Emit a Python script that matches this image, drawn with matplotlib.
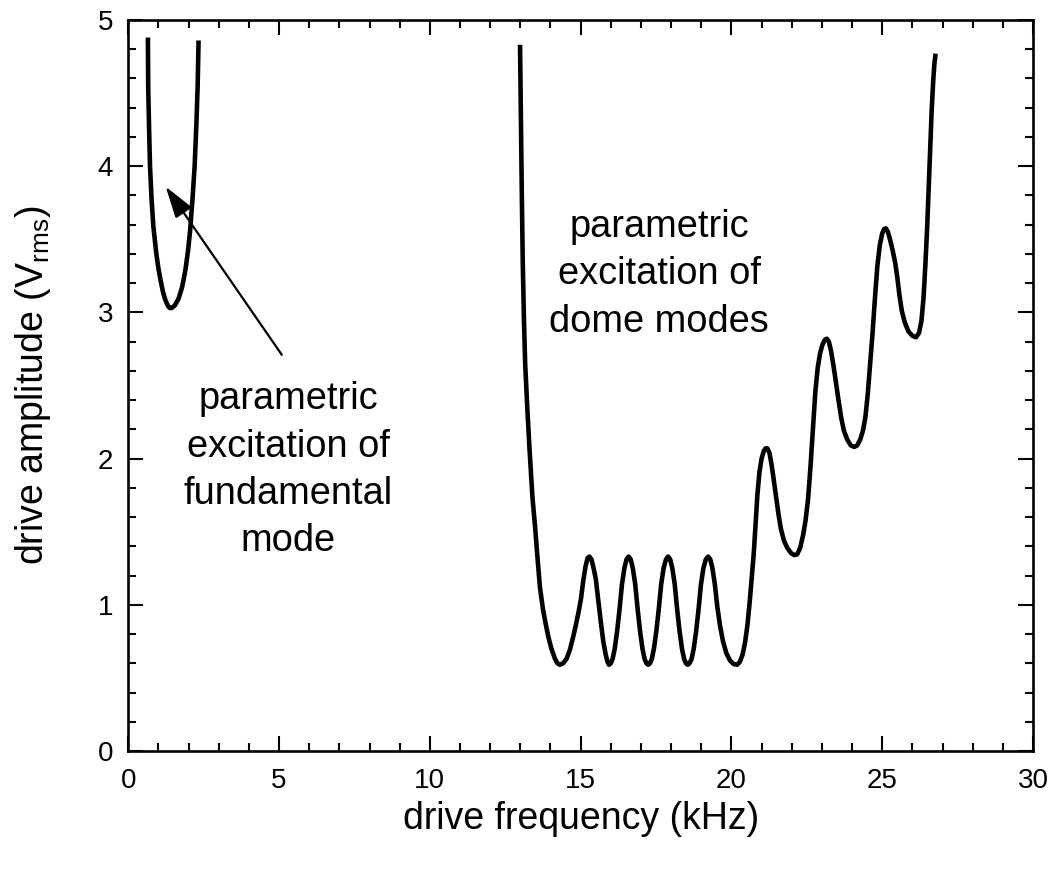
import matplotlib
matplotlib.use("Agg")
import matplotlib.pyplot as plt
from matplotlib.ticker import MultipleLocator

plt.rcParams['font.family'] = ['Liberation Sans', 'DejaVu Sans']
plt.rcParams['mathtext.fontset'] = 'custom'
plt.rcParams['mathtext.rm'] = 'Liberation Sans'

# fundamental mode threshold curve (kHz, V_rms)
fund_freq = [0.65, 0.66, 0.69, 0.72, 0.77, 0.83, 0.93, 1.00, 1.07, 1.15, 1.22, 1.28, 1.33,
             1.38, 1.44, 1.50, 1.55, 1.60, 1.66, 1.72, 1.78, 1.84, 1.90, 1.98, 2.05, 2.13,
             2.20, 2.26, 2.30, 2.33]
fund_amp = [4.88, 4.54, 4.25, 4.00, 3.78, 3.59, 3.40, 3.30, 3.22, 3.14, 3.09, 3.06, 3.04,
            3.03, 3.03, 3.04, 3.05, 3.07, 3.09, 3.13, 3.17, 3.23, 3.30, 3.42, 3.56, 3.78,
            4.00, 4.30, 4.55, 4.86]

# dome modes threshold curve (kHz, V_rms)
dome_freq = [12.99, 13.02, 13.05, 13.08, 13.12, 13.16, 13.23, 13.30, 13.40, 13.49, 13.57,
             13.65, 13.75, 13.84, 13.93, 14.03, 14.15, 14.23,
             14.31, 14.42, 14.53, 14.64, 14.74, 14.84, 14.93, 15.01, 15.09, 15.16, 15.23,
             15.29, 15.36, 15.43, 15.50, 15.59, 15.67, 15.75, 15.83, 15.89,
             15.94, 16.00, 16.06, 16.13, 16.21, 16.29, 16.37, 16.45, 16.52,
             16.59, 16.66, 16.73, 16.81, 16.89, 16.97, 17.05, 17.12, 17.18,
             17.24, 17.30, 17.36, 17.43, 17.51, 17.59, 17.67, 17.75, 17.83,
             17.90, 17.97, 18.04, 18.12, 18.20, 18.28, 18.36, 18.43, 18.49,
             18.55, 18.61, 18.68, 18.75, 18.83, 18.91, 18.99, 19.07, 19.15,
             19.23, 19.30, 19.37, 19.45, 19.53, 19.62, 19.72, 19.83, 19.95, 20.07,
             20.19, 20.28, 20.37, 20.45, 20.53, 20.61, 20.68, 20.74, 20.80, 20.86, 20.93,
             21.00, 21.07, 21.13, 21.19, 21.26, 21.33, 21.40, 21.48, 21.56, 21.64, 21.74,
             21.85, 21.97, 22.08, 22.18, 22.28, 22.38, 22.46, 22.54, 22.62, 22.70, 22.78,
             22.86, 22.94, 23.02, 23.09, 23.16, 23.23, 23.30, 23.38, 23.46, 23.55, 23.64,
             23.73, 23.84, 23.96, 24.07, 24.17, 24.27, 24.36, 24.44, 24.52, 24.60, 24.68,
             24.76, 24.84, 24.92, 25.00, 25.06, 25.12, 25.19, 25.27, 25.35, 25.43, 25.50,
             25.57, 25.65, 25.75, 25.87, 26.00, 26.12, 26.22, 26.30, 26.37, 26.43, 26.49,
             26.54, 26.59, 26.64, 26.69, 26.73, 26.77]
dome_amp = [4.83, 4.30, 3.79, 3.35, 2.95, 2.65, 2.35, 2.08, 1.74, 1.53, 1.32,
            1.12, 0.97, 0.87, 0.78, 0.70, 0.63, 0.60,
            0.59, 0.60, 0.63, 0.69, 0.77, 0.86, 0.95, 1.04, 1.17, 1.26, 1.32,
            1.33, 1.31, 1.25, 1.18, 1.02, 0.88, 0.75, 0.66, 0.61,
            0.59, 0.60, 0.63, 0.70, 0.82, 0.97, 1.14, 1.25, 1.31,
            1.33, 1.31, 1.25, 1.14, 0.97, 0.82, 0.70, 0.63, 0.60,
            0.59, 0.60, 0.63, 0.70, 0.82, 0.97, 1.14, 1.25, 1.31,
            1.33, 1.31, 1.25, 1.14, 0.97, 0.82, 0.70, 0.63, 0.60,
            0.59, 0.60, 0.63, 0.70, 0.82, 0.97, 1.14, 1.25, 1.31,
            1.33, 1.31, 1.25, 1.14, 0.99, 0.86, 0.75, 0.67, 0.62, 0.595,
            0.59, 0.61, 0.66, 0.74, 0.86, 1.03, 1.20, 1.35, 1.55, 1.75, 1.91,
            2.00, 2.05, 2.07, 2.07, 2.04, 1.96, 1.86, 1.74, 1.62, 1.52, 1.44,
            1.39, 1.355, 1.34, 1.345, 1.39, 1.48, 1.58, 1.72, 1.94, 2.20, 2.45,
            2.62, 2.72, 2.78, 2.81, 2.82, 2.80, 2.74, 2.64, 2.53, 2.40, 2.28,
            2.19, 2.13, 2.09, 2.08, 2.09, 2.13, 2.19, 2.28, 2.44, 2.65, 2.86,
            3.10, 3.32, 3.46, 3.54, 3.57, 3.575, 3.55, 3.49, 3.42, 3.34, 3.24,
            3.12, 3.01, 2.93, 2.87, 2.84, 2.83, 2.86, 2.94, 3.10, 3.32, 3.58,
            3.85, 4.12, 4.38, 4.58, 4.70, 4.77]

x_ticks = [0, 5, 10, 15, 20, 25, 30]
y_ticks = [0, 1, 2, 3, 4, 5]

fig = plt.figure(figsize=(10.58, 8.71), dpi=100)
ax = fig.add_axes([128.3 / 1058, 1 - 751 / 871, (1033 - 128.3) / 1058, (751 - 20) / 871])

lw = 3.3
ax.plot(fund_freq, fund_amp, color='black', lw=lw, solid_capstyle='butt', solid_joinstyle='round')
ax.plot(dome_freq, dome_amp, color='black', lw=lw, solid_capstyle='butt', solid_joinstyle='round')

ax.set_xlim(0, 30)
ax.set_ylim(0, 5)
ax.set_xticks(x_ticks)
ax.set_yticks(y_ticks)
ax.xaxis.set_minor_locator(MultipleLocator(1))
ax.yaxis.set_minor_locator(MultipleLocator(0.2))
ax.tick_params(which='both', direction='in', top=True, right=True, width=1.5, labelsize=20)
ax.tick_params(axis='x', which='major', length=10.5, pad=12)
ax.tick_params(axis='y', which='major', length=10.5, pad=11)
ax.tick_params(which='minor', length=5.5)
for s in ax.spines.values():
    s.set_linewidth(1.9)

ax.set_xlabel('drive frequency (kHz)', fontsize=27, labelpad=5)
ax.set_ylabel(r'drive amplitude (V$_{\mathregular{rms}}$)', fontsize=27, labelpad=32)

ax.text(5.30, 1.92, 'parametric\nexcitation of\nfundamental\nmode', fontsize=27.4,
        ha='center', va='center', linespacing=1.4)
ax.text(17.6, 3.26, 'parametric\nexcitation of\ndome modes', fontsize=27.4,
        ha='center', va='center', linespacing=1.4)

ax.annotate('', xy=(1.24, 3.86), xytext=(5.09, 2.71),
            arrowprops=dict(arrowstyle='-|>,head_length=1.95,head_width=0.6',
                            color='black', lw=1.6, shrinkA=0, shrinkB=0))

fig.savefig('out.png', dpi=100)
